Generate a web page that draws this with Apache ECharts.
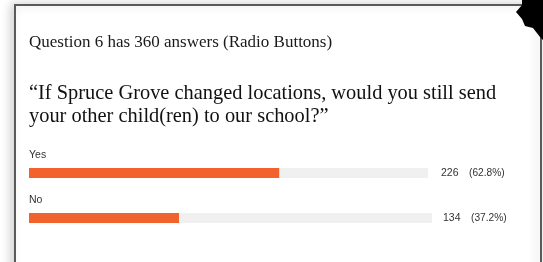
<!DOCTYPE html>
<html>
<head>
<meta charset="utf-8">
<script src="https://cdn.jsdelivr.net/npm/echarts@6/dist/echarts.min.js"></script>
<style>
html,body{margin:0;padding:0;background:#fff;}
#c{width:543px;height:262px;}
</style>
</head>
<body>
<div id="c"></div>
<script>
const headline = 'Question 6 has 360 answers (Radio Buttons)';
const question = '\u201cIf Spruce Grove changed locations, would you still send\nyour other child(ren) to our school?\u201d';
const categories = ['Yes', 'No'];
const counts = [226, 134];
const total = 360;

const rows = [
  { top: 168, width: 399, dist: 13 },
  { top: 213, width: 403, dist: 11 }
];

const grids = [], xAxes = [], yAxes = [], series = [];
categories.forEach((cat, i) => {
  const r = rows[i];
  grids.push({ left: 29, top: r.top, width: r.width, height: 10 });
  xAxes.push({ type: 'value', gridIndex: i, min: 0, max: total, show: false });
  yAxes.push({ type: 'category', gridIndex: i, data: [cat], show: false });
  const pct = (counts[i] / total * 100).toFixed(1);
  series.push({
    type: 'bar', xAxisIndex: i, yAxisIndex: i, stack: 's' + i,
    barWidth: 10, silent: true,
    data: [counts[i]],
    itemStyle: { color: '#F2622D' },
    label: {
      show: true, position: [0, -13], align: 'left', verticalAlign: 'middle',
      formatter: cat, fontFamily: 'Liberation Sans', fontSize: 10.5, color: '#333'
    }
  });
  series.push({
    type: 'bar', xAxisIndex: i, yAxisIndex: i, stack: 's' + i,
    barWidth: 10, silent: true,
    data: [total - counts[i]],
    itemStyle: { color: '#F0F0F0' },
    label: {
      show: true, position: 'right', distance: r.dist,
      formatter: '{n|' + counts[i] + '}{p|(' + pct + '%)}',
      rich: {
        n: { width: 28, fontFamily: 'Liberation Sans', fontSize: 10.5, color: '#333' },
        p: { fontFamily: 'Liberation Sans', fontSize: 10.2, color: '#333' }
      }
    }
  });
});

const chart = echarts.init(document.getElementById('c'), null, { renderer: 'canvas' });
chart.setOption({
  animation: false,
  backgroundColor: '#fff',
  title: [
    { text: headline, left: 29, top: 34, padding: 0,
      textStyle: { fontFamily: 'Liberation Serif', fontSize: 17, fontWeight: 'normal', color: '#1a1a1a' } },
    { text: question, left: 29, top: 82, padding: 0,
      textStyle: { fontFamily: 'Liberation Serif', fontSize: 20.4, fontWeight: 'normal', color: '#111', lineHeight: 23 } }
  ],
  grid: grids, xAxis: xAxes, yAxis: yAxes, series: series,
  graphic: [
    { type: 'rect', z: -1, shape: { x: 15, y: 5, width: 526, height: 300 },
      style: { fill: '#fff', stroke: '#5a5a5a', lineWidth: 2,
               shadowBlur: 10, shadowColor: 'rgba(0,0,0,0.18)', shadowOffsetX: -3 } },
    { type: 'polygon', z: 100,
      shape: { points: [[522,0],[543,0],[543,40],[540,37],[533,28],[525,26],[522,19],[516,12],[522,5]] },
      style: { fill: '#000' } }
  ]
});
</script>
</body>
</html>
